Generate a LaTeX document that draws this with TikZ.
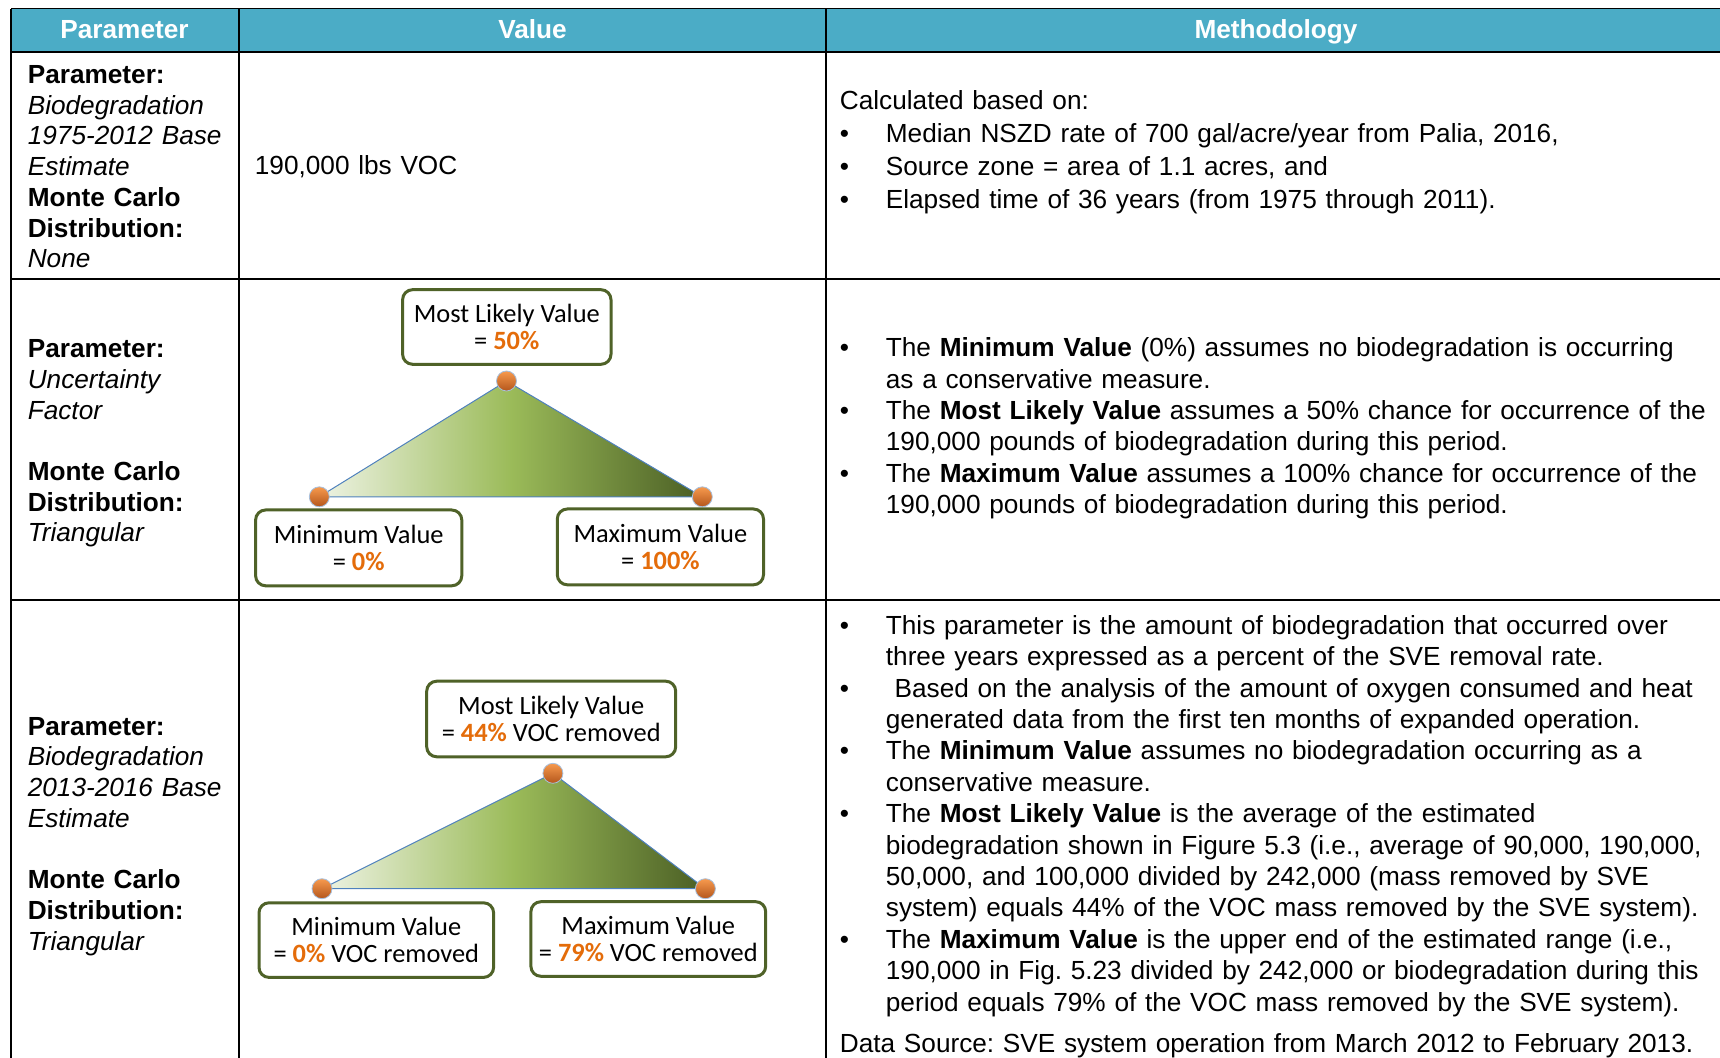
\documentclass[tikz,border=0pt]{standalone}
\usepackage{fontspec}
\setmainfont{Liberation Sans}
\newfontfamily\boxfont{Carlito}
\usepackage{tikz}

\definecolor{hdrblue}{HTML}{4BACC6}
\definecolor{oliveln}{HTML}{4F6228}
\definecolor{pctorange}{HTML}{E46C0A}
\definecolor{trilight}{HTML}{EEF3E4}
\definecolor{trimid}{HTML}{9BBB59}
\definecolor{tridark}{HTML}{4A5E24}
\definecolor{edgeblue}{HTML}{4F81BD}
\definecolor{dotlight}{HTML}{F79A4E}
\definecolor{dotdark}{HTML}{B4561C}

\newcommand{\bul}{\makebox[23pt][l]{\textbullet}}
\newcommand{\ind}{\hspace*{23pt}}
\newcommand{\pct}[1]{\textcolor{pctorange}{\textbf{#1}}}
\hyphenpenalty=10000
\frenchspacing

\begin{document}
\begin{tikzpicture}[
    x=0.5pt, y=-0.5pt,
    hdr/.style={anchor=base, inner sep=0pt, text=white, font=\fontsize{13.1}{15}\selectfont\bfseries},
    cell/.style={anchor=base west, inner sep=0pt, text width=520pt, align=left, font=\fontsize{13.1}{15.35}\selectfont},
    meth/.style={cell, font=\fontsize{13.1}{15.7}\selectfont},
    pbox/.style={draw=oliveln, line width=1.5pt, rounded corners=5pt, fill=white, align=center, inner sep=0pt, font=\boxfont\fontsize{13.2}{13.7}\selectfont},
    dot/.style={circle, minimum size=10pt, inner sep=0pt, top color=dotlight, bottom color=dotdark, draw=edgeblue!50, line width=0.4pt},
    tri/.style={left color=trilight, right color=tridark, middle color=trimid, draw=edgeblue, line width=0.5pt},
    rule/.style={line width=1pt}
]
    \useasboundingbox (0,0) rectangle (1720,1058);
    \clip (0,0) rectangle (1720,1058);

    % Header
    \fill[hdrblue] (11,9) rectangle (1740,52);
    \draw[line width=0.5pt] (11,9) -- (1740,9);
    \node[hdr] (hpar) at (124.5, 38.6) {Parameter};
    \node[hdr] (hval) at (532.5, 38.6) {Value};
    \node[hdr] (hmeth) at (1276, 38.6) {Methodology};

    % Grid lines
    \draw[rule] (11,52) -- (1740,52);
    \draw[rule] (11,279) -- (1740,279);
    \draw[rule] (11,600) -- (1740,600);
    \draw[rule] (11,9) -- (11,1070);
    \draw[rule] (239,9) -- (239,1070);
    \draw[rule] (826,9) -- (826,1070);

    % Row 1
    \node[cell] (par1) at (27.4, 83.6) {\textbf{Parameter:}\\\textit{Biodegradation}\\\textit{1975-2012 Base}\\\textit{Estimate}\\\textbf{Monte Carlo}\\\textbf{Distribution:}\\\textit{None}};
    \node[cell] (val1) at (254.5, 174.6) {190,000 lbs VOC};
    \node[cell, font=\fontsize{13.1}{16.45}\selectfont] (meth1) at (839.5, 110) {Calculated based on:\\
        \bul Median NSZD rate of 700 gal/acre/year from Palia, 2016,\\
        \bul Source zone = area of 1.1 acres, and\\
        \bul Elapsed time of 36 years (from 1975 through 2011).};

    % Row 2
    \node[cell] (par2) at (27.4, 357.8) {\textbf{Parameter:}\\\textit{Uncertainty}\\\textit{Factor}\\[15.35pt]\textbf{Monte Carlo}\\\textbf{Distribution:}\\\textit{Triangular}};
    \coordinate (top2) at (506.5, 381);
    \coordinate (lo2) at (319.3, 496.8);
    \coordinate (hi2) at (702.3, 496.8);
    \draw[tri] (lo2) -- (top2) -- (hi2) -- cycle;
    \node[dot] (dtop2) at (top2) {};
    \node[dot] (dlo2) at (lo2) {};
    \node[dot] (dhi2) at (hi2) {};
    \node[pbox, minimum width=104.2pt, minimum height=37.3pt] (ml2) at (506.8, 327) {Most Likely Value\\= \pct{50\%}};
    \node[pbox, minimum width=103.1pt, minimum height=37.9pt] (mn2) at (358.7, 547.9) {Minimum Value\\= \pct{0\%}};
    \node[pbox, minimum width=103.1pt, minimum height=37.9pt] (mx2) at (660.4, 546.9) {Maximum Value\\= \pct{100\%}};
    \node[meth] (meth2) at (839.5, 356.7) {%
        \bul The \textbf{Minimum Value} (0\%) assumes no biodegradation is occurring\\
        \ind as a conservative measure.\\
        \bul The \textbf{Most Likely Value} assumes a 50\% chance for occurrence of the\\
        \ind 190,000 pounds of biodegradation during this period.\\
        \bul The \textbf{Maximum Value} assumes a 100\% chance for occurrence of the\\
        \ind 190,000 pounds of biodegradation during this period.};

    % Row 3
    \node[cell] (par3) at (27.4, 735.2) {\textbf{Parameter:}\\\textit{Biodegradation}\\\textit{2013-2016 Base}\\\textit{Estimate}\\[15.35pt]\textbf{Monte Carlo}\\\textbf{Distribution:}\\\textit{Triangular}};
    \coordinate (top3) at (552.9, 773.3);
    \coordinate (lo3) at (322, 888.7);
    \coordinate (hi3) at (705.4, 888.7);
    \draw[tri] (lo3) -- (top3) -- (hi3) -- cycle;
    \node[dot] (dtop3) at (top3) {};
    \node[dot] (dlo3) at (lo3) {};
    \node[dot] (dhi3) at (hi3) {};
    \node[pbox, minimum width=124.5pt, minimum height=37.8pt] (ml3) at (551.2, 719) {Most Likely Value\\= \pct{44\%} VOC removed};
    \node[pbox, minimum width=117.3pt, minimum height=37.3pt] (mn3) at (376.3, 940.1) {Minimum Value\\= \pct{0\%} VOC removed};
    \node[pbox, minimum width=117.4pt, minimum height=37.3pt] (mx3) at (648.3, 939) {Maximum Value\\= \pct{79\%} VOC removed};
    \node[meth] (meth3) at (839.5, 634.3) {%
        \bul This parameter is the amount of biodegradation that occurred over\\
        \ind three years expressed as a percent of the SVE removal rate.\\
        \bul\ Based on the analysis of the amount of oxygen consumed and heat\\
        \ind generated data from the first ten months of expanded operation.\\
        \bul The \textbf{Minimum Value} assumes no biodegradation occurring as a\\
        \ind conservative measure.\\
        \bul The \textbf{Most Likely Value} is the average of the estimated\\
        \ind biodegradation shown in Figure 5.3 (i.e., average of 90,000, 190,000,\\
        \ind 50,000, and 100,000 divided by 242,000 (mass removed by SVE\\
        \ind system) equals 44\% of the VOC mass removed by the SVE system).\\
        \bul The \textbf{Maximum Value} is the upper end of the estimated range (i.e.,\\
        \ind 190,000 in Fig. 5.23 divided by 242,000 or biodegradation during this\\
        \ind period equals 79\% of the VOC mass removed by the SVE system).\\[4.85pt]
        Data Source: SVE system operation from March 2012 to February 2013.};

\end{tikzpicture}
\end{document}
